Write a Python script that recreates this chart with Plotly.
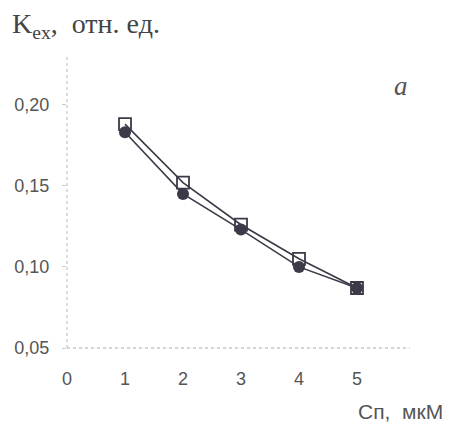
import plotly.graph_objects as go

x_vals = [1, 2, 3, 4, 5]
squares = [0.188, 0.152, 0.126, 0.105, 0.087]
circles = [0.183, 0.145, 0.123, 0.100, 0.087]
x_ticks = [0, 1, 2, 3, 4, 5]
y_ticks = [0.05, 0.10, 0.15, 0.20]
y_tick_text = ["0,05", "0,10", "0,15", "0,20"]

line_col = "#3a3a48"
fig = go.Figure()
fig.add_trace(go.Scatter(x=x_vals, y=squares, mode="lines+markers",
                         line=dict(color=line_col, width=1.6),
                         marker=dict(symbol="square-open", size=12, color=line_col, line=dict(width=1.8))))
fig.add_trace(go.Scatter(x=x_vals, y=circles, mode="lines+markers",
                         line=dict(color=line_col, width=1.6),
                         marker=dict(symbol="circle", size=12, color=line_col)))

fig.update_layout(
    width=442, height=426,
    margin=dict(l=59, r=35, t=48, b=86),
    paper_bgcolor="white", plot_bgcolor="white",
    showlegend=False,
    font=dict(family="Liberation Sans, Arial", size=18, color="#555555"),
    xaxis=dict(range=[0, 6], tickvals=x_ticks, ticktext=[str(v) for v in x_ticks],
               showgrid=False, zeroline=False, showline=False, ticks="",
               ticklabelstandoff=18, automargin=False),
    yaxis=dict(range=[0.05, 0.23], tickvals=y_ticks, ticktext=y_tick_text,
               showgrid=False, zeroline=False, showline=False,
               ticks="outside", ticklen=4, tickcolor="#cccccc",
               ticklabelstandoff=9, automargin=False),
    shapes=[
        dict(type="line", xref="paper", yref="paper", x0=0, x1=0, y0=0, y1=1,
             line=dict(color="#bbbbbb", width=1, dash="dot")),
        dict(type="line", xref="paper", yref="paper", x0=0, x1=0.985, y0=0, y1=0,
             line=dict(color="#aaaaaa", width=1, dash="dot")),
    ],
    annotations=[
        dict(text="K<sub>ex</sub>,  отн. ед.", xref="paper", yref="paper", x=-0.164, y=1.106,
             xanchor="left", yanchor="middle", showarrow=False,
             font=dict(family="Liberation Serif, Times New Roman", size=28, color="#444444")),
        dict(text="<i>a</i>", x=5.76, y=0.2117, showarrow=False,
             font=dict(family="Liberation Serif, Times New Roman", size=27, color="#555555")),
        dict(text="Сп,  мкМ", xref="paper", yref="paper", x=1.086, y=-0.216,
             xanchor="right", yanchor="middle", showarrow=False,
             font=dict(family="Liberation Sans, Arial", size=21, color="#555555")),
    ],
)
fig.write_html("out.html")
